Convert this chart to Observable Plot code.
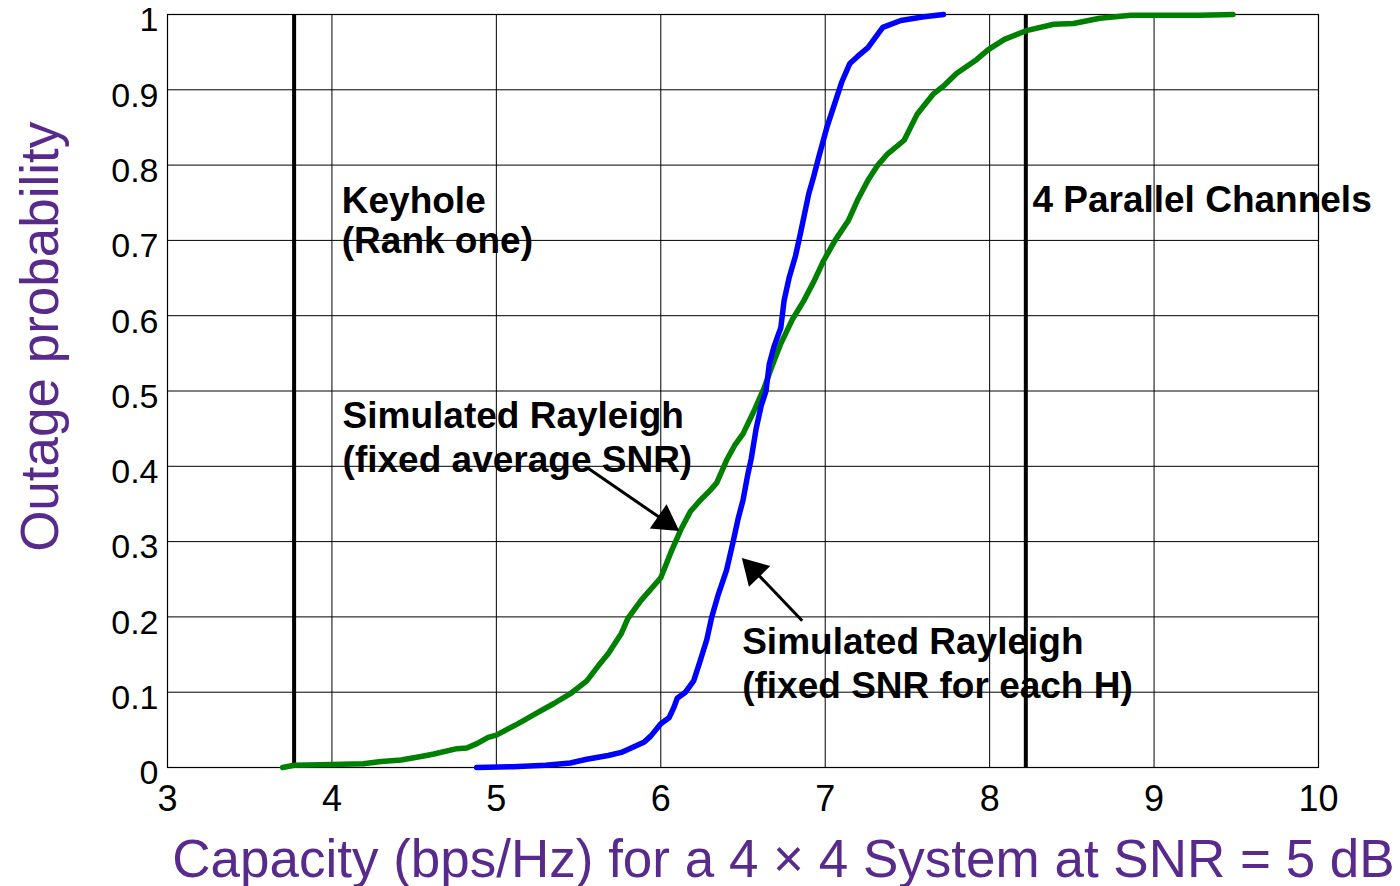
<!DOCTYPE html>
<html><head><meta charset="utf-8">
<script src="https://cdn.jsdelivr.net/npm/d3@7"></script>
<script src="https://cdn.jsdelivr.net/npm/@observablehq/plot@0.6"></script>
<style>body{margin:0;background:#fff} svg{display:block;overflow:visible}</style>
</head><body><div id="chart"></div>
<script>
// Simulated Rayleigh (fixed SNR for each H) — blue
const blueX = [4.88,5.10,5.30,5.45,5.55,5.68,5.76,5.83,5.90,5.94,6.00,6.05,6.08,6.10,6.15,6.20,6.24,6.28,6.31,6.35,6.40,6.44,6.47,6.50,6.53,6.55,6.58,6.61,6.64,6.66,6.69,6.73,6.75,6.78,6.82,6.85,6.90,6.93,6.96,7.01,7.07,7.10,7.15,7.20,7.26,7.35,7.46,7.60,7.72];
const blueY = [0.000,0.001,0.003,0.006,0.011,0.016,0.020,0.027,0.034,0.042,0.058,0.066,0.080,0.092,0.100,0.115,0.142,0.170,0.200,0.230,0.262,0.300,0.330,0.355,0.390,0.410,0.450,0.480,0.500,0.536,0.560,0.584,0.620,0.650,0.680,0.710,0.762,0.785,0.810,0.850,0.890,0.910,0.935,0.945,0.956,0.983,0.992,0.997,1.000];
// Simulated Rayleigh (fixed average SNR) — green
const greenX = [3.70,3.77,4.00,4.19,4.30,4.42,4.55,4.62,4.76,4.82,4.885,4.95,5.00,5.13,5.25,5.35,5.45,5.55,5.62,5.68,5.76,5.80,5.88,6.00,6.06,6.12,6.18,6.24,6.30,6.34,6.40,6.45,6.50,6.57,6.63,6.68,6.73,6.80,6.87,6.93,6.99,7.06,7.14,7.20,7.26,7.32,7.38,7.48,7.56,7.66,7.72,7.80,7.92,7.99,8.09,8.23,8.39,8.51,8.67,8.86,9.28,9.48];
const greenY = [0.000,0.003,0.004,0.005,0.008,0.010,0.015,0.018,0.025,0.026,0.032,0.040,0.043,0.058,0.073,0.085,0.098,0.115,0.135,0.151,0.178,0.198,0.222,0.252,0.285,0.315,0.340,0.355,0.368,0.378,0.408,0.428,0.443,0.475,0.505,0.535,0.563,0.595,0.620,0.645,0.673,0.700,0.726,0.755,0.780,0.800,0.815,0.833,0.868,0.895,0.905,0.922,0.940,0.953,0.967,0.979,0.987,0.988,0.995,0.999,0.999,1.000];
// Reference capacities (vertical lines): Keyhole (rank one), 4 parallel channels
const refX = [3.77, 8.22];
// Tick labels
const xTicks = [3,4,5,6,7,8,9,10];
const yTicks = [0,0.1,0.2,0.3,0.4,0.5,0.6,0.7,0.8,0.9,1];
// Annotation lines
const noteX = [4.06,4.06,8.26,4.065,4.065,6.495,6.495];
const noteY = [0.737,0.683,0.738,0.4515,0.392,0.151,0.092];
const noteText = ["Keyhole","(Rank one)","4 Parallel Channels","Simulated Rayleigh","(fixed average SNR)","Simulated Rayleigh","(fixed SNR for each H)"];
// Arrows (tail -> tip), head centroid and direction
const arrowX1 = [5.56, 6.86];
const arrowY1 = [0.397, 0.195];
const arrowX2 = [6.06, 6.54];
const arrowY2 = [0.322, 0.268];
const headX = [6.027, 6.565];
const headY = [0.327, 0.262];
const headRotate = [124.6, -44];

const xLabel = "Capacity (bps/Hz) for a 4 \u00d7 4 System at SNR = 5 dB";
const yLabel = "Outage probability";

const blue = blueX.map((x,i)=>({x, y: blueY[i]}));
const green = greenX.map((x,i)=>({x, y: greenY[i]}));
const notes = noteX.map((x,i)=>({x, y: noteY[i], t: noteText[i]}));
const arrows = arrowX1.map((x1,i)=>({x1, y1: arrowY1[i], x2: arrowX2[i], y2: arrowY2[i]}));
const heads = headX.map((x,i)=>({x, y: headY[i], r: headRotate[i]}));

const purple = "#582A8C";
const font = "'Liberation Sans', Arial, sans-serif";

const chart = Plot.plot({
  width: 1400,
  height: 886,
  marginLeft: 167,
  marginRight: 82,
  marginTop: 14,
  marginBottom: 119,
  style: {fontFamily: font, background: "#fff", color: "black", overflow: "visible"},
  x: {domain: [3, 10]},
  y: {domain: [0, 1]},
  marks: [
    Plot.gridX(xTicks, {stroke: "black", strokeOpacity: 1, strokeWidth: 1}),
    Plot.gridY(yTicks, {stroke: "black", strokeOpacity: 1, strokeWidth: 1}),
    Plot.frame({stroke: "black", strokeWidth: 1.2}),
    Plot.axisX({ticks: xTicks, tickFormat: d => String(d), tickSize: 0, tickPadding: 18, fontSize: 36, label: null}),
    Plot.axisY({ticks: yTicks, tickFormat: d => String(d), tickSize: 0, tickPadding: 9, fontSize: 34, dy: 6, label: null}),
    Plot.ruleX(refX, {y1: 0, y2: 1, stroke: "black", strokeWidth: 4}),
    Plot.line(green, {x: "x", y: "y", stroke: "#008000", strokeWidth: 5.5}),
    Plot.line(blue, {x: "x", y: "y", stroke: "#0000FF", strokeWidth: 5.5}),
    Plot.link(arrows, {x1: "x1", y1: "y1", x2: "x2", y2: "y2", stroke: "black", strokeWidth: 3}),
    Plot.dot(heads, {x: "x", y: "y", r: 11, symbol: "triangle", fill: "black", stroke: "none", rotate: "r"}),
    Plot.text(notes, {x: "x", y: "y", text: "t", textAnchor: "start", lineAnchor: "bottom", fontSize: 37, fontWeight: "bold", fill: "black"}),
    Plot.text([xLabel], {frameAnchor: "bottom", x: [6.746], text: d => d, dy: 109, lineAnchor: "bottom", textAnchor: "middle", fontSize: 53, fill: purple}),
    Plot.text([yLabel], {frameAnchor: "left", y: [0.572], text: d => d, dx: -110, rotate: -90, lineAnchor: "bottom", textAnchor: "middle", fontSize: 53, fill: purple})
  ]
});
document.getElementById("chart").appendChild(chart);
</script>
</body></html>
